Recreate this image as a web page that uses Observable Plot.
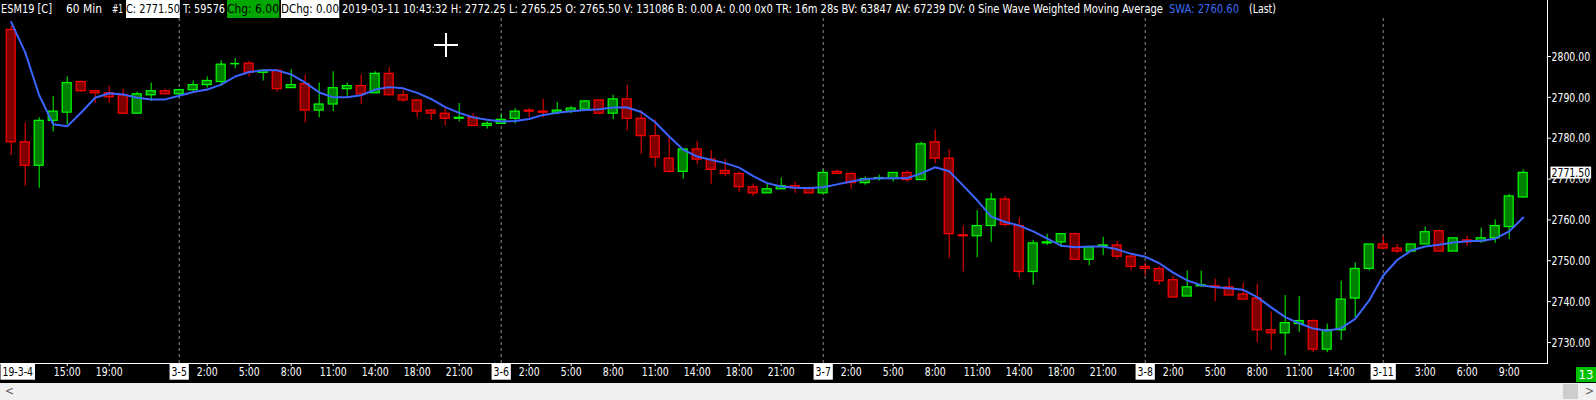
<!DOCTYPE html>
<html><head><meta charset="utf-8">
<script src="https://cdn.jsdelivr.net/npm/d3@7"></script>
<script src="https://cdn.jsdelivr.net/npm/@observablehq/plot@0.6"></script>
<style>
html,body{margin:0;padding:0;background:#000;width:1596px;height:400px;overflow:hidden}
#wrap{position:relative;width:1596px;height:400px;background:#000}
.hp{position:absolute;top:0;height:18px;line-height:18px;white-space:pre;font-size:13px;color:#fff;transform-origin:0 0}
.box{background:#fff;color:#000}
.gbox{background:#00a800;color:#000}
.blue{color:#3c6cf0}
#chart{position:absolute;left:0;top:18px;width:1596px;height:365px;overflow:hidden}
#rline{position:absolute;left:1547px;top:0;width:1px;height:18px;background:#fff}
#sb{position:absolute;left:0;top:383px;width:1596px;height:17px;background:#f0f0f0}
#thumb{position:absolute;left:1563px;top:1px;width:15px;height:15px;background:#cdcdcd}
.arr{position:absolute;top:0;height:17px;line-height:17px;font-size:12px;color:#606060}
#cnt{position:absolute;left:1576px;top:367px;width:20px;height:15px;line-height:15px;background:#00c000;color:#fff;font-size:13px;text-align:center}
.cur{position:absolute;background:#fff}
</style>
</head><body>
<div id="wrap">
  <div id="hdr"></div>
  <div id="rline"></div>
  <div id="chart"></div>
  <div id="cnt">13</div>
  <div id="sb"><div class="arr" style="left:5px">&lt;</div><div id="thumb"></div><div class="arr" style="left:1585px">&gt;</div></div>
  <div class="cur" style="left:434px;top:44px;width:24px;height:2px"></div>
  <div class="cur" style="left:445px;top:33px;width:2px;height:24px"></div>
</div>
<script>
const FONT = "'Liberation Sans Narrow','Arial Narrow','DejaVu Sans Condensed','Liberation Sans',sans-serif";

// ---- data (60 min bars, ESM19) ----
const open = [2806.5,2779.0,2773.25,2784.25,2786.25,2793.75,2791.5,2791.0,2790.5,2786.0,
2790.5,2791.5,2790.75,2791.75,2793.0,2793.75,2798.25,2798.25,2796.0,2796.5,
2792.25,2793.25,2786.75,2788.25,2792.0,2792.75,2791.0,2795.75,2790.5,2789.25,
2786.75,2786.0,2784.75,2785.0,2783.0,2783.5,2784.75,2786.75,2786.5,2786.25,
2786.5,2787.0,2789.25,2786.0,2789.5,2784.75,2780.5,2775.0,2771.75,2777.25,
2774.75,2772.0,2771.25,2768.0,2766.5,2767.5,2768.25,2767.75,2766.5,2771.75,
2771.25,2769.0,2770.0,2770.0,2771.5,2769.75,2779.0,2775.0,2756.25,2756.0,
2758.5,2765.0,2758.5,2747.25,2754.25,2754.5,2756.5,2750.25,2753.5,2753.75,
2751.0,2748.5,2748.0,2745.25,2741.25,2743.75,2743.75,2743.5,2741.75,2740.75,
2733.0,2732.25,2734.5,2735.25,2728.25,2733.0,2740.75,2748.0,2754.0,2753.0,
2752.25,2754.0,2757.25,2752.25,2755.0,2754.75,2755.5,2758.25,2765.5];
const high = [2807.5,2783.75,2785.0,2790.25,2795.0,2794.0,2791.75,2792.75,2792.0,2791.25,
2793.5,2792.0,2792.0,2794.0,2795.0,2799.0,2799.5,2798.75,2796.75,2796.75,
2796.75,2795.5,2793.5,2796.25,2793.5,2795.5,2796.25,2797.25,2791.75,2789.25,
2787.0,2787.25,2788.5,2786.0,2784.0,2786.0,2787.25,2787.25,2789.5,2788.75,
2787.75,2789.25,2789.25,2790.5,2793.0,2786.75,2784.5,2780.25,2777.25,2779.25,
2777.0,2774.75,2771.75,2768.75,2768.75,2770.25,2769.25,2768.0,2772.25,2772.25,
2771.5,2770.5,2771.0,2771.5,2772.0,2779.0,2782.0,2777.25,2758.5,2762.25,
2766.5,2765.75,2760.5,2755.0,2756.5,2756.5,2756.75,2753.25,2755.75,2754.75,
2751.25,2749.5,2748.5,2746.25,2747.5,2747.5,2745.5,2745.75,2744.5,2744.25,
2737.5,2741.5,2741.25,2735.5,2734.5,2745.0,2749.5,2754.0,2756.0,2754.0,
2754.0,2758.25,2757.5,2755.5,2756.0,2758.0,2760.0,2766.25,2772.25];
const low = [2775.75,2768.25,2767.75,2781.5,2783.25,2791.25,2788.5,2788.5,2785.75,2786.0,
2789.0,2790.5,2790.25,2791.5,2792.25,2792.75,2797.0,2795.0,2794.0,2791.25,
2792.25,2783.75,2785.0,2786.5,2790.25,2788.25,2791.0,2790.5,2788.75,2785.0,
2784.25,2783.0,2784.0,2783.0,2782.25,2783.5,2783.5,2785.0,2785.0,2785.75,
2786.0,2787.0,2785.75,2784.5,2781.75,2776.0,2772.75,2771.5,2770.0,2773.5,
2768.75,2770.5,2766.75,2765.75,2766.5,2767.5,2766.5,2766.5,2766.5,2771.25,
2767.5,2768.5,2769.5,2769.25,2769.25,2769.75,2773.75,2750.5,2747.25,2750.75,
2754.5,2758.25,2745.75,2744.0,2753.75,2753.25,2750.25,2748.75,2751.25,2750.25,
2747.5,2746.25,2744.0,2741.0,2741.25,2743.5,2740.0,2741.5,2740.5,2730.0,
2728.0,2726.75,2732.5,2727.5,2727.5,2730.5,2736.0,2747.5,2752.75,2751.75,
2752.25,2754.0,2752.25,2752.25,2753.5,2754.25,2754.25,2755.25,2765.25];
const close = [2779.0,2773.25,2784.25,2786.5,2793.5,2791.5,2791.0,2790.0,2786.0,2790.75,
2791.5,2790.75,2791.75,2793.0,2794.0,2798.0,2798.25,2796.0,2796.5,2792.0,
2793.0,2786.75,2788.25,2792.25,2792.75,2790.75,2795.75,2790.5,2789.25,2786.5,
2786.0,2784.75,2785.0,2783.0,2783.5,2784.5,2786.5,2786.5,2786.25,2786.75,
2787.25,2789.0,2786.0,2789.5,2784.75,2780.5,2775.25,2771.75,2777.25,2774.75,
2772.25,2771.25,2768.0,2766.5,2767.5,2768.25,2767.75,2766.5,2771.5,2771.25,
2769.0,2770.0,2770.25,2771.5,2769.75,2778.5,2775.0,2756.5,2756.0,2758.5,
2765.0,2758.75,2747.25,2754.25,2754.5,2756.5,2750.25,2753.25,2753.75,2751.0,
2748.5,2748.0,2745.0,2741.0,2743.5,2744.0,2743.5,2741.5,2740.5,2733.0,
2732.25,2734.75,2735.25,2728.25,2733.0,2740.5,2748.0,2754.0,2753.0,2752.25,
2754.0,2757.0,2752.25,2755.5,2754.5,2755.5,2758.5,2765.75,2771.5];
const swa = [2808.4,2801.0,2790.5,2783.4,2782.9,2786.3,2789.9,2791.0,2790.7,2789.9,
2789.5,2789.5,2790.4,2791.3,2791.9,2793.1,2795.1,2796.2,2796.6,2796.6,
2795.6,2793.6,2791.2,2790.0,2790.0,2790.5,2791.9,2792.5,2792.2,2791.1,
2789.6,2787.6,2786.2,2785.1,2784.5,2784.1,2784.2,2784.7,2785.7,2786.2,
2786.6,2786.9,2787.1,2787.5,2787.5,2786.4,2783.9,2780.4,2777.2,2775.5,
2774.7,2773.9,2772.8,2770.7,2769.0,2768.2,2767.9,2767.8,2768.0,2768.7,
2769.4,2770.0,2770.2,2770.2,2770.2,2771.4,2772.9,2771.9,2768.4,2764.8,
2760.8,2759.5,2758.6,2757.2,2755.4,2753.7,2753.3,2753.5,2753.5,2752.8,
2751.7,2751.0,2749.4,2747.1,2745.2,2744.0,2743.5,2743.3,2742.9,2741.1,
2738.6,2736.2,2734.7,2733.4,2732.9,2733.5,2735.8,2740.3,2746.4,2750.2,
2752.5,2753.5,2753.9,2754.5,2754.8,2754.9,2755.4,2757.2,2760.6];

// x-axis labels (bar index -> label)
const timeTickIdx = [4,7,14,17,20,23,26,29,32,37,40,43,46,49,52,55,60,63,66,69,72,75,78,83,86,89,92,95,101,104,107];
const timeTickLabels = ["15:00","19:00","2:00","5:00","8:00","11:00","14:00","18:00","21:00","2:00","5:00","8:00","11:00","14:00","18:00","21:00","2:00","5:00","8:00","11:00","14:00","18:00","21:00","2:00","5:00","8:00","11:00","14:00","3:00","6:00","9:00"];
const dateTickIdx = [0,12,35,58,81,98];
const dateTickLabels = ["19-3-4","3-5","3-6","3-7","3-8","3-11"];
const yTicks = [2730,2740,2750,2760,2770,2780,2790,2800];

// header
const headerPieces = [
  {t:"ESM19 [C]", x:1, w:51},
  {t:"60 Min", x:66, w:36},
  {t:"#1", x:112, w:11},
  {t:"C: 2771.50", x:126, w:54, cls:"box"},
  {t:"T: 59576", x:183, w:42},
  {t:"Chg: 6.00", x:227, w:52, cls:"gbox"},
  {t:"DChg: 0.00", x:281, w:58, cls:"box"},
  {t:"2019-03-11 10:43:32 H: 2772.25 L: 2765.25 O: 2765.50 V: 131086 B: 0.00 A: 0.00 0x0 TR: 16m 28s BV: 63847 AV: 67239 DV: 0 Sine Wave Weighted Moving Average", x:342, w:821},
  {t:"SWA: 2760.60", x:1169, w:70, cls:"blue"},
  {t:"(Last)", x:1249, w:27}
];

const hdr = document.getElementById("hdr");
for (const p of headerPieces) {
  const s = document.createElement("span");
  s.className = "hp" + (p.cls ? " " + p.cls : "");
  s.style.left = p.x + "px";
  s.style.fontFamily = FONT;
  s.textContent = p.t;
  hdr.appendChild(s);
  const w = s.getBoundingClientRect().width;
  if (w > 0) s.style.transform = `scaleX(${p.w / w})`;
}
document.getElementById("cnt").style.fontFamily = FONT;
document.querySelectorAll(".arr").forEach(e => e.style.fontFamily = FONT);

const rows = open.map((o, i) => ({i, o, h: high[i], l: low[i], c: close[i], s: swa[i], up: close[i] >= o}));
const timeTicks = timeTickIdx.map((i, k) => ({i, t: timeTickLabels[k]}));
const dateTicks = dateTickIdx.map((i, k) => ({i, t: dateTickLabels[k]}));
const allTickIdx = [...timeTickIdx, ...dateTickIdx];
const last = rows[rows.length - 1];
const lastText = last.c.toFixed(2);

const chart = Plot.plot({
  width: 1596, height: 365,
  marginLeft: 0, marginRight: 49, marginTop: 0, marginBottom: 20,
  style: {background: "#000", color: "#fff", fontFamily: FONT, fontSize: "13px", overflow: "hidden"},
  color: {type: "identity"},
  x: {domain: [0, 108], range: [10.7, 1522.7], ticks: allTickIdx, tickFormat: () => "", tickSize: 3, label: null},
  y: {domain: [2730, 2800], range: [324, 37.98], axis: "right", ticks: yTicks, tickFormat: d => d.toFixed(2), tickSize: 3, tickPadding: 1, label: null},
  marks: [
    Plot.ruleX(dateTickIdx.slice(1), {x: d => d, stroke: "#8c8c8c", strokeDasharray: "3,3"}),
    Plot.ruleX(rows, {x: "i", y1: "l", y2: "h", stroke: d => d.up ? "#00ff00" : "#ff0000"}),
    Plot.rect(rows.filter(d => d.o !== d.c), {x1: d => d.i - 0.32, x2: d => d.i + 0.32, y1: "o", y2: "c",
      fill: d => d.up ? "#008000" : "#800000", stroke: d => d.up ? "#00ff00" : "#ff0000", strokeWidth: 1.2}),
    Plot.ruleY(rows.filter(d => d.o === d.c), {y: "c", x1: d => d.i - 0.32, x2: d => d.i + 0.32,
      stroke: d => d.up ? "#00ff00" : "#ff0000", strokeWidth: 1.5}),
    Plot.line(rows, {x: "i", y: "s", stroke: "#3c64ff", strokeWidth: 2}),
    Plot.text(timeTicks, {x: "i", text: "t", frameAnchor: "bottom", dy: 12.7, fill: "#fff"}),
    Plot.text(dateTicks.slice(1), {x: "i", text: "t", frameAnchor: "bottom", dy: 12.7, fill: "#000"}),
    Plot.text(dateTicks.slice(0, 1), {x: "i", text: "t", frameAnchor: "bottom", dy: 12.7, dx: -8.7, textAnchor: "start", fill: "#000"}),
    Plot.text([last], {y: "c", text: () => lastText, frameAnchor: "right", dx: 4, textAnchor: "start", fill: "#000"}),
    Plot.frame({stroke: "#fff", insetLeft: -5, insetTop: -5})
  ]
});
document.getElementById("chart").appendChild(chart);

// condense SVG text to the narrow face used by the reference (width of "2800.00" ≈ 38.6px)
let k = 1;
chart.querySelectorAll("text").forEach(t => { if (t.textContent === "2800.00") k = 38.6 / t.getComputedTextLength(); });
if (k < 0.99) {
  chart.querySelectorAll("text").forEach(t => {
    const w = t.getComputedTextLength();
    if (w > 0) { t.setAttribute("textLength", (w * k).toFixed(2)); t.setAttribute("lengthAdjust", "spacingAndGlyphs"); }
  });
}

// white label boxes behind date labels and last price
const dateSet = new Set(dateTickLabels);
const yLabelSet = new Set(yTicks.map(d => d.toFixed(2)));
chart.querySelectorAll("text").forEach(t => {
  const s = t.textContent;
  const isDate = dateSet.has(s);
  const isPrice = s === lastText && t.getAttribute("fill") !== null || (s === lastText && !yLabelSet.has(s));
  if (!isDate && !isPrice) return;
  const padX = isDate ? 2 : 1, padY = isDate ? 0.5 : -1.5;
  const b = t.getBBox();
  const r = document.createElementNS("http://www.w3.org/2000/svg", "rect");
  r.setAttribute("x", b.x - padX);
  r.setAttribute("y", b.y - padY);
  r.setAttribute("width", b.width + 2 * padX);
  r.setAttribute("height", b.height + 2 * padY);
  r.setAttribute("fill", "#fff");
  if (t.getAttribute("transform")) r.setAttribute("transform", t.getAttribute("transform"));
  t.parentNode.insertBefore(r, t);
});
</script>
</body></html>
